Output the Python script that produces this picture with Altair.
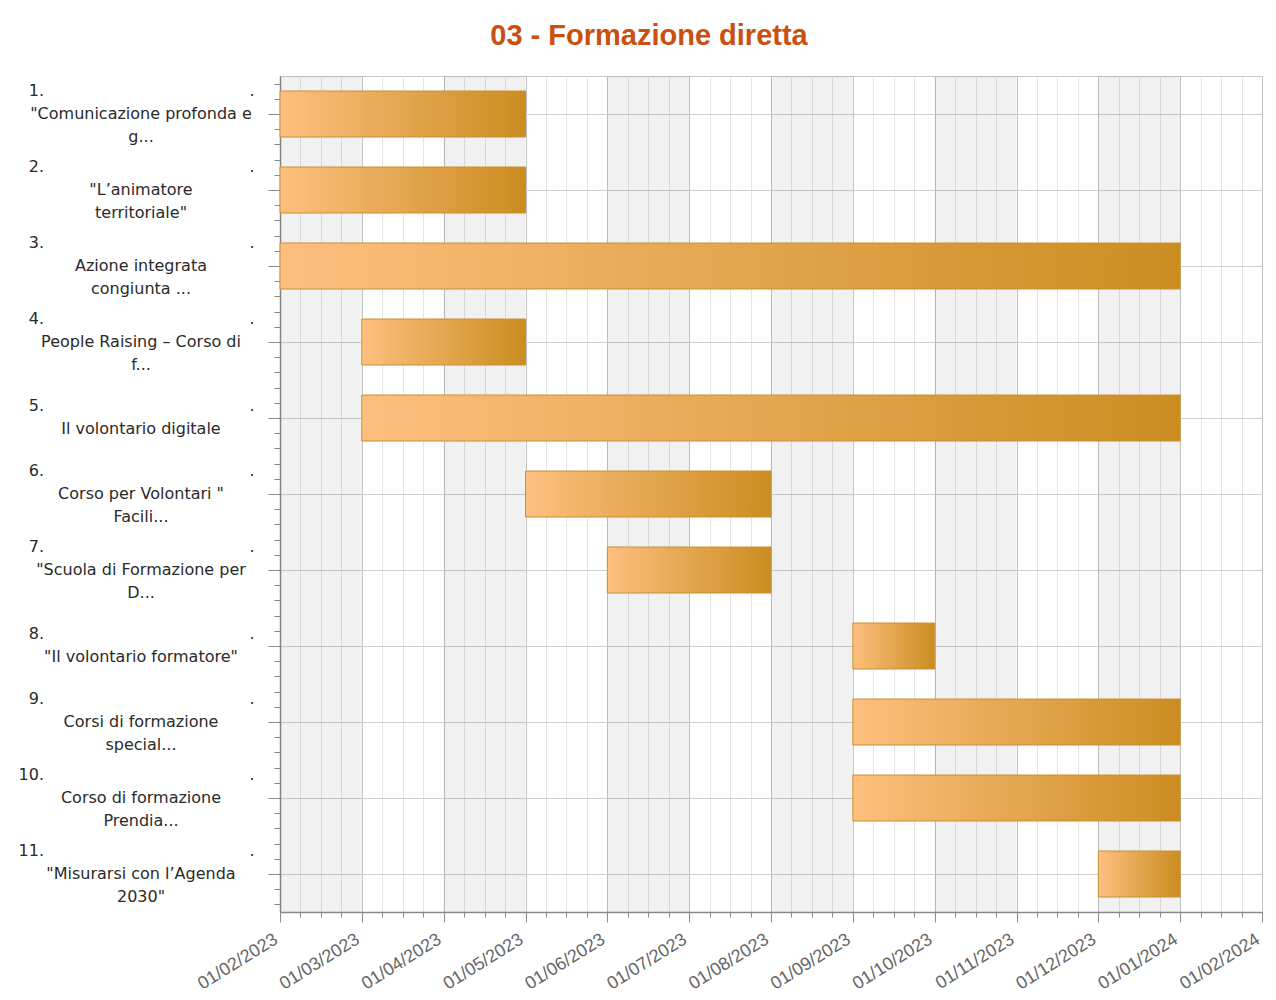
import json
import altair as alt
import pandas as pd

# ---------------- data ----------------
months = ["01/02/2023", "01/03/2023", "01/04/2023", "01/05/2023", "01/06/2023",
          "01/07/2023", "01/08/2023", "01/09/2023", "01/10/2023", "01/11/2023",
          "01/12/2023", "01/01/2024", "01/02/2024"]

numbers = ["1.", "2.", "3.", "4.", "5.", "6.", "7.", "8.", "9.", "10.", "11."]

labels = [
    "\"Comunicazione profonda e\ng...",
    "\"L\u2019animatore\nterritoriale\"",
    "Azione integrata\ncongiunta ...",
    "People  Raising \u2013 Corso di\nf...",
    "Il volontario digitale",
    "Corso per Volontari \"\nFacili...",
    "\"Scuola di Formazione per\nD...",
    "\"Il volontario formatore\"",
    "Corsi di formazione\nspecial...",
    "Corso di formazione\nPrendia...",
    "\"Misurarsi con l\u2019Agenda\n2030\"",
]

starts = ["01/02/2023", "01/02/2023", "01/02/2023", "01/03/2023", "01/03/2023",
          "01/05/2023", "01/06/2023", "01/09/2023", "01/09/2023", "01/09/2023",
          "01/12/2023"]
ends = ["01/05/2023", "01/05/2023", "01/01/2024", "01/05/2023", "01/01/2024",
        "01/08/2023", "01/08/2023", "01/10/2023", "01/01/2024", "01/01/2024",
        "01/01/2024"]

title_text = "03 - Formazione diretta"

# ---------------- tables ----------------
month_pos = {m: i for i, m in enumerate(months)}
n_rows = len(labels)
n_months = len(months) - 1

tasks = pd.DataFrame({
    "num": numbers,
    "label": labels,
    "start_date": starts,
    "end_date": ends,
    "start": [month_pos[s] for s in starts],
    "end": [month_pos[e] for e in ends],
    "row": [i + 0.5 for i in range(n_rows)],
})
tasks["n_lines"] = [lab.count("\n") + 1 for lab in labels]
tasks["num_text"] = [n + "\n " * k for n, k in zip(tasks["num"], tasks["n_lines"])]
tasks["dot_text"] = ["." + "\n " * k for k in tasks["n_lines"]]
tasks["label_text"] = [" \n" + lab for lab in labels]

bands = pd.DataFrame({"m0": list(range(0, n_months, 2))})
bands["m1"] = bands["m0"] + 1

# ---------------- scales / axes ----------------
x_scale = alt.Scale(domain=[0, n_months], nice=False, zero=False, padding=0)
y_scale = alt.Scale(domain=[0, n_rows], reverse=True, nice=False, zero=False, padding=0)

x_values = [i / 4 for i in range(4 * n_months + 1)]
x_major = "datum.value % 1 === 0"
label_expr = f"{x_major} ? {json.dumps(months)}[round(datum.value)] : ''"

x_axis = alt.Axis(
    values=x_values, labelExpr=label_expr, title=None,
    labelAngle=-32, labelAlign="right", labelBaseline="top",
    labelFont="Liberation Sans", labelFontSize=18, labelColor="#666666",
    labelPadding=8, labelOffset=-9,
    labelOverlap=False, labelBound=False, labelFlush=False,
    tickColor="#8a8a8a",
    tickSize={"condition": {"test": x_major, "value": 10}, "value": 5},
    gridColor={"condition": {"test": x_major, "value": "#c2c2c2"}, "value": "#e4e4e4"},
    domainColor="#8a8a8a", domainWidth=1.5,
)

y_values = [round(0.1 + 0.2 * k, 2) for k in range(5 * n_rows)]
y_major = "abs((datum.value * 10) % 10 - 5) < 0.01"
y_axis = alt.Axis(
    values=y_values, labels=False, title=None,
    tickColor="#8a8a8a",
    tickSize={"condition": {"test": y_major, "value": 12}, "value": 6},
    gridColor="#cfcfcf",
    gridOpacity={"condition": {"test": y_major, "value": 1}, "value": 0},
    domainColor="#8a8a8a", domainWidth=1.5,
)

x_start = alt.X("start:Q", scale=x_scale, axis=x_axis)
y_enc = alt.Y("row:Q", scale=y_scale, axis=y_axis)

# ---------------- layers ----------------
band_layer = alt.Chart(bands).mark_rect(color="#000000", opacity=0.055).encode(
    x=alt.X("m0:Q", scale=x_scale, axis=x_axis),
    x2="m1:Q",
)

gradient = alt.LinearGradient(
    gradient="linear",
    stops=[alt.GradientStop(color="#FDBF7E", offset=0),
           alt.GradientStop(color="#CB8D20", offset=1)],
    x1=0, x2=1, y1=0, y2=0,
)

bar_layer = alt.Chart(tasks).mark_bar(
    size=46, color=gradient, stroke="#C98F35", strokeWidth=1, cornerRadius=0
).encode(
    x=x_start,
    x2="end:Q",
    y=y_enc,
    tooltip=["num", "label", "start_date", "end_date"],
)

text_common = dict(font="DejaVu Sans", fontSize=16, color="#2a2a2a",
                   baseline="middle", lineBreak="\n", lineHeight=23)


def text_layers(n_lines, dy):
    base = alt.Chart(tasks).transform_filter(f"datum.n_lines == {n_lines}")
    nums = base.mark_text(align="right", dy=dy, **text_common).encode(
        x=alt.value(-236), y=y_enc, text="num_text:N")
    dots = base.mark_text(align="center", dy=dy, **text_common).encode(
        x=alt.value(-28), y=y_enc, text="dot_text:N")
    labs = base.mark_text(align="center", dy=dy, **text_common).encode(
        x=alt.value(-139), y=y_enc, text="label_text:N")
    return [nums, dots, labs]


chart = alt.layer(
    band_layer, bar_layer, *text_layers(2, -23), *text_layers(1, -12)
).properties(
    width=982,
    height=836,
    title=alt.TitleParams(
        title_text, font="Liberation Sans", fontSize=29, fontWeight="bold",
        color="#C9500F", anchor="middle", frame="group", dx=-122,
        baseline="alphabetic", offset=2,
    ),
    padding={"left": 272, "top": 68, "right": 6, "bottom": 84},
    autosize=alt.AutoSizeParams(type="none"),
).configure_view(stroke="#c8c8c8", strokeWidth=1)

chart.save("out.html", embed_options={"renderer": "svg", "actions": False})
